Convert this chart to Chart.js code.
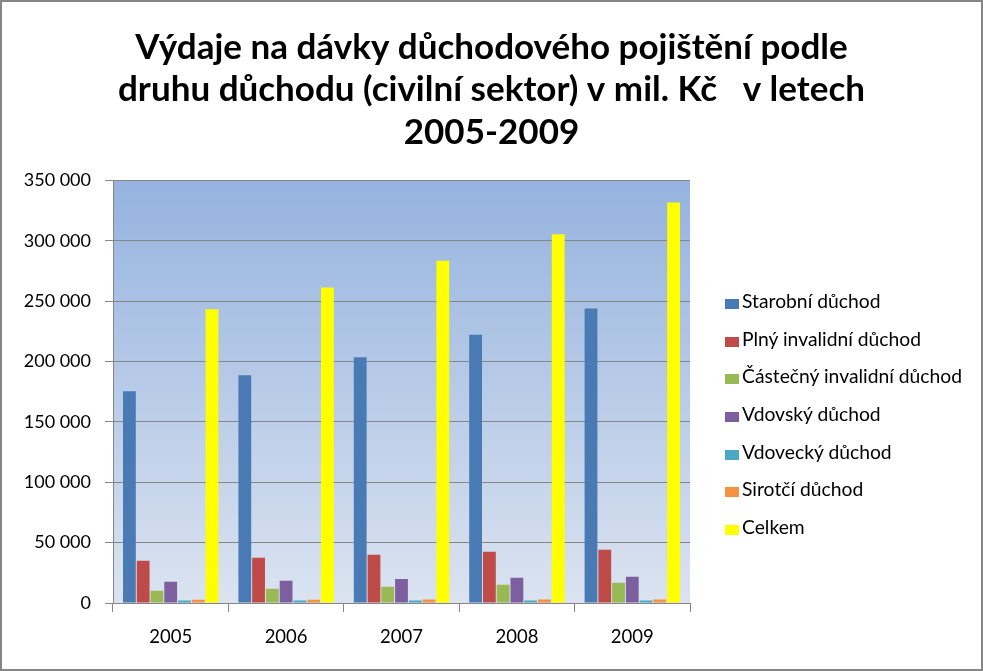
<!DOCTYPE html>
<html>
<head>
<meta charset="utf-8">
<script src="https://cdn.jsdelivr.net/npm/chart.js@4.4.1/dist/chart.umd.min.js"></script>
<style>
    html, body { margin: 0; padding: 0; background: #fff; }
    #frame { position: relative; width: 983px; height: 671px; box-sizing: border-box; border: 2px solid #868686; }
    canvas { display: block; }
    #legend { position: absolute; left: 723px; top: 280px; margin: 0; padding: 0; list-style: none;
        font-family: Lato, "Open Sans", sans-serif; font-size: 19.3px; color: #000; }
    #legend li { height: 37.67px; line-height: 37.67px; white-space: nowrap; }
    #legend span.box { display: inline-block; width: 14px; height: 10px; margin-right: 3px; vertical-align: -1px; }
</style>
</head>
<body>
<div id="frame"><canvas id="chart" width="979" height="667"></canvas><ul id="legend"></ul></div>
<script>
    'use strict';

    // years on the x axis
    const years = ['2005', '2006', '2007', '2008', '2009'];

    // expenses in mil. Kč
    const starobni = [175400, 188700, 203600, 222100, 243900];
    const plnyInvalidni = [35000, 37500, 40000, 42450, 44100];
    const castecnyInvalidni = [10200, 11800, 13500, 15150, 16800];
    const vdovsky = [17600, 18450, 19850, 20950, 21750];
    const vdovecky = [2000, 2000, 2000, 2000, 2000];
    const sirotci = [2700, 2700, 2800, 2800, 2800];
    const celkem = [243400, 261300, 283600, 305500, 331700];

    const seriesNames = ['Starobní důchod', 'Plný invalidní důchod', 'Částečný invalidní důchod',
        'Vdovský důchod', 'Vdovecký důchod', 'Sirotčí důchod', 'Celkem'];
    const seriesData = [starobni, plnyInvalidni, castecnyInvalidni, vdovsky, vdovecky, sirotci, celkem];
    const seriesColors = ['#4a7ab4', '#be4b48', '#98b954', '#7d5fa0', '#4aa8c3', '#f59343', '#ffff00'];

    const titleLines = ['Výdaje na dávky důchodového pojištění podle',
        'druhu důchodu (civilní sektor) v mil. Kč   v letech', '2005-2009'];

    const gridColor = '#868686';
    const fontFamily = 'Lato, "Open Sans", sans-serif';

    // thousands separated by a space, like "350 000"
    function formatNumber(v){
        return String(v).replace(/\B(?=(\d{3})+(?!\d))/g, ' ');
    }

    // blue gradient behind the plot area
    const plotBackground = {
        id: 'plotBackground',
        beforeDraw(chart){
            const {ctx, chartArea} = chart;
            if(!chartArea) return;
            const g = ctx.createLinearGradient(0, chartArea.top, 0, chartArea.bottom);
            g.addColorStop(0, '#95b3df');
            g.addColorStop(1, '#dbe3f0');
            ctx.save();
            ctx.fillStyle = g;
            ctx.fillRect(chartArea.left, chartArea.top, chartArea.width, chartArea.height);
            ctx.restore();
        }
    };

    // legend built from the chart's own legend items
    const htmlLegend = {
        id: 'htmlLegend',
        afterUpdate(chart){
            const ul = document.getElementById('legend');
            ul.innerHTML = '';
            const items = chart.options.plugins.legend.labels.generateLabels(chart);
            items.forEach(function(item){
                const li = document.createElement('li');
                const box = document.createElement('span');
                box.className = 'box';
                box.style.background = item.fillStyle;
                li.appendChild(box);
                li.appendChild(document.createTextNode(item.text));
                ul.appendChild(li);
            });
        }
    };

    let datasets = seriesNames.map(function(name, i){
        return {
            label: name,
            data: seriesData[i],
            backgroundColor: seriesColors[i],
            borderWidth: 0,
            categoryPercentage: 0.835,
            barPercentage: 0.93
        };
    });

    Chart.defaults.font.family = fontFamily;
    Chart.defaults.color = '#000';

    new Chart(document.getElementById('chart'), {
        type: 'bar',
        data: { labels: years, datasets: datasets },
        plugins: [plotBackground, htmlLegend],
        options: {
            responsive: false,
            animation: false,
            layout: { padding: { left: 0, right: 0, top: 0, bottom: 16 } },
            scales: {
                x: {
                    grid: { display: true, drawOnChartArea: false, offset: true, color: gridColor, tickLength: 9 },
                    border: { color: gridColor },
                    ticks: { font: { size: 18.5 }, padding: 14 },
                    afterFit: function(scale){ scale.height = 50; }
                },
                y: {
                    min: 0,
                    max: 350000,
                    grid: { color: gridColor, tickLength: 8 },
                    border: { color: gridColor },
                    ticks: { stepSize: 50000, font: { size: 18 }, padding: 14, callback: formatNumber },
                    afterFit: function(scale){ scale.width = 111; }
                },
                // room on the right for the legend
                gap: {
                    position: 'right',
                    display: true,
                    grid: { display: false },
                    border: { display: false },
                    ticks: { display: false },
                    afterFit: function(scale){ scale.width = 291; }
                }
            },
            plugins: {
                title: {
                    display: true,
                    text: titleLines,
                    font: { size: 35, weight: 'bold', lineHeight: 1.214 },
                    color: '#000',
                    padding: { top: 24, bottom: 27 }
                },
                legend: { display: false },
                tooltip: { enabled: false }
            }
        }
    });
</script>
</body>
</html>
